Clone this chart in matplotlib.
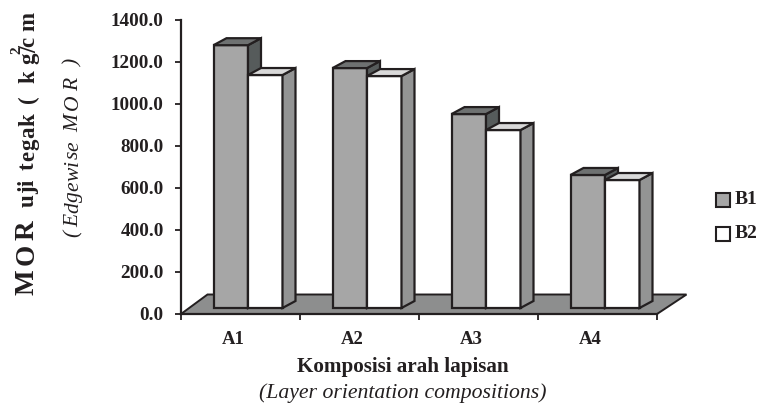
import matplotlib
matplotlib.use("Agg")
import matplotlib.pyplot as plt
from matplotlib.font_manager import FontProperties
from matplotlib.patches import Polygon, Rectangle
from matplotlib.textpath import text_to_path

plt.rcParams['font.family'] = ['Liberation Serif', 'DejaVu Serif']

categories = ["A1", "A2", "A3", "A4"]
b1 = [1280, 1171, 952, 662]
b2 = [1138, 1133, 876, 638]
y_ticks = [0, 200, 400, 600, 800, 1000, 1200, 1400]

dark = "#231f20"
W, H = 762, 405

fig = plt.figure(figsize=(7.62, 4.05), dpi=100)
ax = fig.add_axes([181 / W, (H - 314) / H, 476 / W, 294 / H])
ax.set_xlim(0, 4)
ax.set_ylim(0, 1400)

# pixels to data units
px_x = 4 / 476
px_y = 1400 / 294
depth_x = 13 * px_x
depth_y = 7 * px_y
bar_w = 34.5 * px_x
bar_base = 6 * px_y


def poly(pts, color, lw=1.6, z=3):
    ax.add_patch(Polygon(pts, closed=True, facecolor=color, edgecolor=dark,
                         linewidth=lw, joinstyle='miter', clip_on=False, zorder=z))


def bar3d(x0, top, front, side, side_top, z):
    x1 = x0 + bar_w
    poly([(x0, bar_base), (x1, bar_base), (x1, top), (x0, top)], front, z=z)
    poly([(x1, bar_base), (x1 + depth_x, bar_base + depth_y),
          (x1 + depth_x, top + depth_y), (x1, top)], side, z=z)
    poly([(x0, top), (x1, top), (x1 + depth_x, top + depth_y),
          (x0 + depth_x, top + depth_y)], side_top, z=z)


def vertical_word(x, y_start, y_end, word, size, **kw):
    # one rotated word, letters spread out to fill y_start..y_end (pixels from top)
    prop = FontProperties(family='Liberation Serif', size=size, **kw)
    widths = [text_to_path.get_text_width_height_descent(c, prop, False)[0] * 100 / 72 for c in word]
    gap = 0
    if len(word) > 1:
        gap = (y_start - y_end - sum(widths)) / (len(word) - 1)
    y = y_start
    for c, w in zip(word, widths):
        fig.text(x / W, (H - y) / H, c, fontproperties=prop, rotation=90, ha='left',
                 va='baseline', rotation_mode='anchor', color=dark)
        y -= w + gap


# floor
ax.add_patch(Polygon([(0, 0), (4, 0), (4 + 29.5 * px_x, 19.5 * px_y), (26.5 * px_x, 19.5 * px_y)],
                     closed=True, facecolor="#8d8e8e", edgecolor=dark, linewidth=1.4,
                     clip_on=False, zorder=1))

for i in range(len(categories)):
    centre = i + 0.5 + 7.5 * px_x
    bar3d(centre - bar_w, b1[i], "#a6a6a6", "#565b5b", "#6e7171", 3)
    bar3d(centre, b2[i], "#ffffff", "#939494", "#d9d9d9", 4)

for s in ["top", "right"]:
    ax.spines[s].set_visible(False)
for s in ["left", "bottom"]:
    ax.spines[s].set_linewidth(1.6)
    ax.spines[s].set_color(dark)
    ax.spines[s].set_zorder(5)
ax.patch.set_alpha(0)

ax.set_yticks(y_ticks)
ax.set_yticklabels(["%.1f" % v for v in y_ticks], fontsize=13.8, fontweight='bold', color=dark)
ax.set_xticks(range(5))
ax.set_xticklabels([])
ax.tick_params(axis='both', length=4.5, width=1.3, color=dark)
ax.tick_params(axis='y', pad=8)

for i, c in enumerate(categories):
    fig.text(233.5 / W + i * 119 / W, (H - 339) / H, c, fontsize=13.5, fontweight='bold',
             ha='center', va='center', color=dark)

fig.text(403 / W, (H - 367) / H, "Komposisi arah lapisan", fontsize=15.2, fontweight='bold',
         ha='center', va='center', color=dark)
fig.text(402.5 / W, (H - 393) / H, "(Layer orientation compositions)", fontsize=15.7,
         style='italic', ha='center', va='center', color=dark)

# y label, the overprinted unit is in the original too
vertical_word(34, 295, 220, "MOR", 19.5, weight='bold')
for word, y0, y1 in [("uji", 207, 180), ("tegak", 170, 113), ("(", 103, 96),
                     ("kg", 83, 53), ("c", 47, 37), ("m", 31, 15)]:
    vertical_word(34, y0, y1, word, 16.5, weight='bold')
vertical_word(36, 53, 44, "/", 18, weight='bold')
vertical_word(20, 54, 46, "2", 11, weight='bold')

for word, y0, y1 in [("(", 237, 229), ("Edgewise", 227, 141), ("MOR", 132, 78), (")", 67, 60)]:
    vertical_word(78, y0, y1, word, 15.5, style='italic')

# legend
for label, col, y in [("B1", "#a6a6a6", 200), ("B2", "#ffffff", 234)]:
    fig.add_artist(Rectangle((716 / W, (H - y - 7) / H), 14 / W, 14 / H, facecolor=col,
                             edgecolor=dark, linewidth=1.5, transform=fig.transFigure))
    fig.text(735 / W, (H - y) / H, label, fontsize=14, fontweight='bold', va='center',
             color=dark)

fig.savefig("out.png", dpi=100)
